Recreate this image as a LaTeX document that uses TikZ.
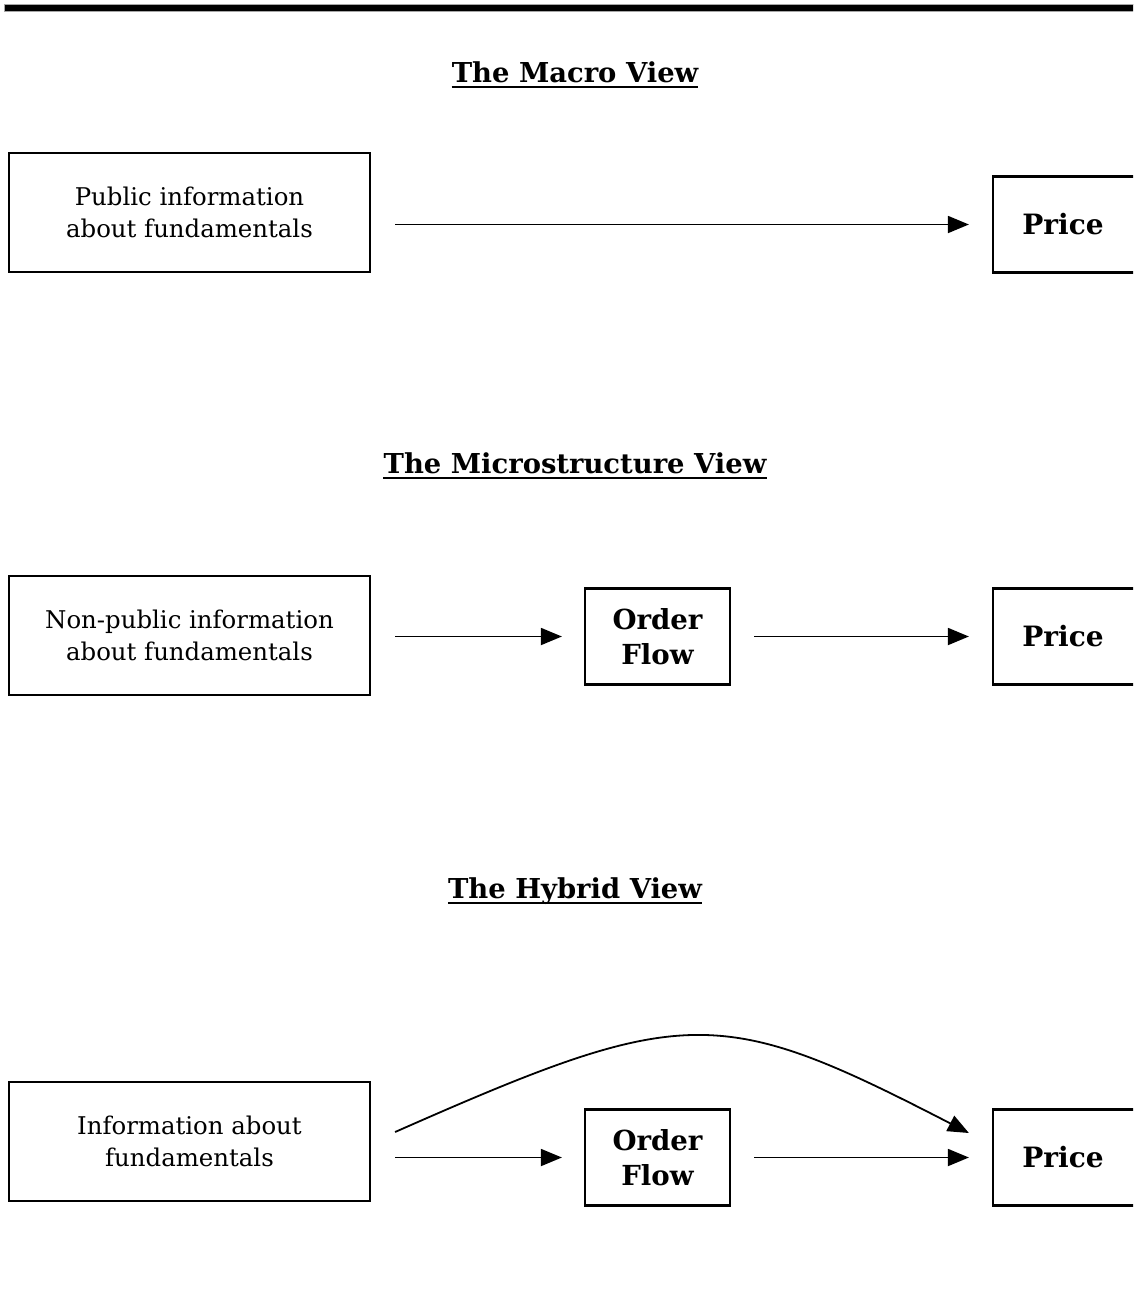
\documentclass[tikz,border=0pt]{standalone}
\usepackage{fontspec}
\setmainfont{DejaVu Serif}
\usetikzlibrary{arrows.meta,calc}
\begin{document}
\begin{tikzpicture}[x=1pt,y=-1pt,
  box/.style={draw, line width=2.2pt, inner sep=0pt, align=center},
  infobox/.style={box, minimum width=361, minimum height=119,
    font=\fontsize{24.4}{32}\selectfont},
  flowbox/.style={box, minimum width=145, minimum height=96,
    font=\fontsize{27.6}{35}\selectfont\bfseries},
  pricebox/.style={box, minimum width=150, minimum height=96,
    font=\fontsize{28}{35}\selectfont\bfseries},
  heading/.style={inner sep=0pt, anchor=base, font=\fontsize{27.4}{32}\selectfont\bfseries},
  uline/.style={line width=2.6pt},
  arr/.style={line width=1.8pt, -{Triangle[length=21pt,width=17pt]}}
]
\path[use as bounding box, clip] (0,0) rectangle (1133,1315);

% rule across the top
\fill[black, draw=gray!70, line width=0.6pt] (4,4) rectangle (1140,11);

% ---- macro view ----
\node[heading] (t1) at (575,82) {The Macro View};
\draw[uline] ($(t1.base west)+(0,5)$) -- ($(t1.base east)+(0,5)$);

\node[infobox] (info1) at (189.5,212.5) {Public information\\about fundamentals};
\node[pricebox] (price1) at (1068,224.5) {Price\hspace{10pt}};
\draw[arr] ($(info1.east |- price1.west)+(24,0)$) -- ($(price1.west)+(-23,0)$);

% ---- microstructure view ----
\node[heading] (t2) at (575,473) {The Microstructure View};
\draw[uline] ($(t2.base west)+(0,5)$) -- ($(t2.base east)+(0,5)$);

\node[infobox] (info2) at (189.5,635.5) {Non-public information\\about fundamentals};
\node[flowbox] (flow2) at (657.5,636.5) {Order\\Flow};
\node[pricebox] (price2) at (1068,636.5) {Price\hspace{10pt}};
\draw[arr] ($(info2.east |- flow2.west)+(24,0)$) -- ($(flow2.west)+(-22,0)$);
\draw[arr] ($(flow2.east)+(23,0)$) -- ($(price2.west)+(-23,0)$);

% ---- hybrid view ----
\node[heading] (t3) at (575,898) {The Hybrid View};
\draw[uline] ($(t3.base west)+(0,5)$) -- ($(t3.base east)+(0,5)$);

\node[infobox] (info3) at (189.5,1141.5) {Information about\\fundamentals};
\node[flowbox] (flow3) at (657.5,1157.5) {Order\\Flow};
\node[pricebox] (price3) at (1068,1157.5) {Price\hspace{10pt}};
\draw[arr] ($(info3.east |- flow3.west)+(24,0)$) -- ($(flow3.west)+(-22,0)$);
\draw[arr] ($(flow3.east)+(23,0)$) -- ($(price3.west)+(-23,0)$);
\draw[arr] ($(info3.east)+(24,-9.5)$) .. controls (685,1004) and (719,1004) .. ($(price3.west)+(-23,-24.5)$);
\end{tikzpicture}
\end{document}
